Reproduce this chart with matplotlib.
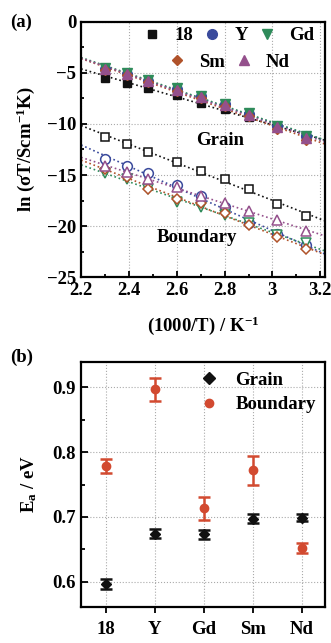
import numpy as np
import matplotlib
matplotlib.use("Agg")
import matplotlib.pyplot as plt
from matplotlib.ticker import MultipleLocator
from matplotlib.lines import Line2D

plt.rcParams["font.family"] = ["Liberation Serif", "DejaVu Serif"]
plt.rcParams["font.weight"] = "bold"
plt.rcParams["axes.labelweight"] = "bold"
plt.rcParams["mathtext.fontset"] = "custom"
plt.rcParams["mathtext.rm"] = "Liberation Serif:bold"
plt.rcParams["mathtext.it"] = "Liberation Serif:bold"
plt.rcParams["mathtext.bf"] = "Liberation Serif:bold"

# (a) Arrhenius data, x = 1000/T
inv_t = [2.30, 2.39, 2.48, 2.60, 2.70, 2.80, 2.90, 3.02, 3.14]
samples = ["18", "Y", "Gd", "Sm", "Nd"]
grain = {
    "18": [-5.5, -6.0, -6.5, -7.2, -7.9, -8.5, -9.3, -10.3, -11.3],
    "Y":  [-4.6, -5.1, -5.75, -6.6, -7.3, -8.05, -9.0, -10.2, -11.2],
    "Gd": [-4.55, -5.05, -5.7, -6.5, -7.25, -8.0, -8.95, -10.15, -11.15],
    "Sm": [-4.7, -5.25, -5.85, -6.75, -7.45, -8.25, -9.25, -10.45, -11.6],
    "Nd": [-4.6, -5.15, -5.8, -6.65, -7.4, -8.15, -9.1, -10.3, -11.35],
}
boundary = {
    "18": [-11.3, -11.95, -12.7, -13.7, -14.6, -15.4, -16.4, -17.8, -19.0],
    "Y":  [-13.45, -14.1, -14.8, -16.0, -17.1, -18.1, -19.7, -20.8, -21.9],
    "Gd": [-14.8, -15.4, -16.4, -17.6, -18.1, -18.9, -19.7, -20.9, -21.7],
    "Sm": [-14.45, -15.2, -16.4, -17.3, -17.7, -18.75, -19.9, -21.1, -22.2],
    "Nd": [-14.1, -14.7, -15.4, -16.2, -17.1, -17.7, -18.5, -19.4, -20.5],
}

# (b) activation energies
ea_grain = [0.596, 0.674, 0.673, 0.697, 0.699]
ea_grain_err = [0.008, 0.007, 0.007, 0.007, 0.006]
ea_bound = [0.779, 0.897, 0.713, 0.772, 0.652]
ea_bound_err = [0.011, 0.018, 0.018, 0.022, 0.008]

colors = {"18": "#111111", "Y": "#3a4a9c", "Gd": "#2e8b5a", "Sm": "#b0522a", "Nd": "#94508c"}
markers = {"18": "s", "Y": "o", "Gd": "v", "Sm": "D", "Nd": "^"}
msize = {"18": 6, "Y": 7, "Gd": 6.5, "Sm": 5.5, "Nd": 6.5}
red = "#d24a30"

fig = plt.figure(figsize=(3.31, 6.43), dpi=100)
ax1 = fig.add_axes([0.245, 0.569, 0.737, 0.397])
ax2 = fig.add_axes([0.245, 0.056, 0.737, 0.381])

# Panel (a)
xx = np.array(inv_t)
xfit = np.linspace(2.2, 3.25, 50)
for s in samples:
    c = colors[s]
    for d in (boundary, grain):
        p = np.polyfit(xx, d[s], 1)
        ax1.plot(xfit, np.polyval(p, xfit), ls=":", lw=1.2, color=c, zorder=2)
for s in samples:
    c = colors[s]
    ax1.plot(inv_t, boundary[s], ls="none", marker=markers[s], ms=msize[s],
             mfc="white", mec=c, mew=1.1, zorder=3)
for s in samples:
    c = colors[s]
    ax1.plot(inv_t, grain[s], ls="none", marker=markers[s], ms=msize[s],
             mfc=c, mec=c, zorder=4)

ax1.set_xlim(2.2, 3.22)
ax1.set_ylim(-25, 0)
ax1.xaxis.set_minor_locator(MultipleLocator(0.1))
ax1.yaxis.set_major_locator(MultipleLocator(5))
ax1.yaxis.set_minor_locator(MultipleLocator(2.5))
ax1.set_xticks([2.2, 2.4, 2.6, 2.8, 3.0, 3.2])
ax1.set_xticklabels(["2.2", "2.4", "2.6", "2.8", "3", "3.2"])
ax1.grid(True, ls=":", lw=0.8, color="#aaaaaa")
ax1.tick_params(which="both", direction="in", labelsize=13.5, width=1.3)
ax1.tick_params(which="major", length=4)
ax1.tick_params(which="minor", length=2.5)
ax1.set_xlabel("(1000/T) / K$^{-1}$", fontsize=13.5, labelpad=11)
ax1.set_ylabel("ln (σT/Scm$^{-1}$K)", fontsize=13.5, labelpad=7)
ax1.text(2.78, -11.6, "Grain", fontsize=13.5, ha="center", va="center")
ax1.text(2.685, -21.1, "Boundary", fontsize=13.5, ha="center", va="center")

row1 = [Line2D([], [], ls="none", marker=markers[s], ms=msize[s], color=colors[s])
        for s in ["18", "Y", "Gd"]]
row2 = [Line2D([], [], ls="none", marker=markers[s], ms=msize[s], color=colors[s])
        for s in ["Sm", "Nd"]]
leg1 = ax1.legend(row1, ["18", "Y", "Gd"], ncol=3, loc="center",
                  bbox_to_anchor=(0.605, 0.945), frameon=False, fontsize=13.5,
                  handlelength=1.0, handletextpad=0.7, columnspacing=0.5,
                  borderpad=0.1)
ax1.add_artist(leg1)
ax1.legend(row2, ["Sm", "Nd"], ncol=2, loc="center",
           bbox_to_anchor=(0.605, 0.843), frameon=False, fontsize=13.5,
           handlelength=1.0, handletextpad=0.7, columnspacing=0.5, borderpad=0.1)

# Panel (b)
pos = np.arange(len(samples))
ax2.errorbar(pos, ea_bound, yerr=ea_bound_err, ls="none", marker="o", ms=6,
             color=red, ecolor=red, elinewidth=1.8, capsize=4, capthick=1.8,
             zorder=3)
ax2.errorbar(pos, ea_grain, yerr=ea_grain_err, ls="none", marker="D", ms=5.5,
             color="#111111", ecolor="#111111", elinewidth=1.8, capsize=4,
             capthick=1.8, zorder=4)
ax2.set_xlim(-0.5, 4.47)
ax2.set_ylim(0.561, 0.939)
ax2.set_xticks(pos)
ax2.set_xticklabels(samples)
ax2.yaxis.set_major_locator(MultipleLocator(0.1))
ax2.yaxis.set_minor_locator(MultipleLocator(0.05))
ax2.grid(True, ls=":", lw=0.8, color="#aaaaaa")
ax2.tick_params(axis="y", which="both", direction="in", labelsize=13.5, width=1.3)
ax2.tick_params(axis="y", which="major", length=5)
ax2.tick_params(axis="y", which="minor", length=3)
ax2.tick_params(axis="x", direction="out", labelsize=13.5, width=1.3, length=4, pad=6)
ax2.set_ylabel("E$_{a}$ / eV", fontsize=13.5, labelpad=10)
leg_b = [Line2D([], [], ls="none", marker="D", ms=6, color="#111111"),
         Line2D([], [], ls="none", marker="o", ms=6, color=red)]
ax2.legend(leg_b, ["Grain", "Boundary"], loc="upper right", frameon=False,
           fontsize=13.5, handlelength=1.0, handletextpad=0.9, borderpad=0.2,
           borderaxespad=0.3, labelspacing=0.4)

for ax in (ax1, ax2):
    for sp in ax.spines.values():
        sp.set_linewidth(1.6)
    for lab in ax.get_xticklabels() + ax.get_yticklabels():
        lab.set_fontweight("bold")

fig.text(0.03, 0.966, "(a)", fontsize=13.5, ha="left", va="center")
fig.text(0.03, 0.445, "(b)", fontsize=13.5, ha="left", va="center")

fig.savefig("out.png", dpi=100)
